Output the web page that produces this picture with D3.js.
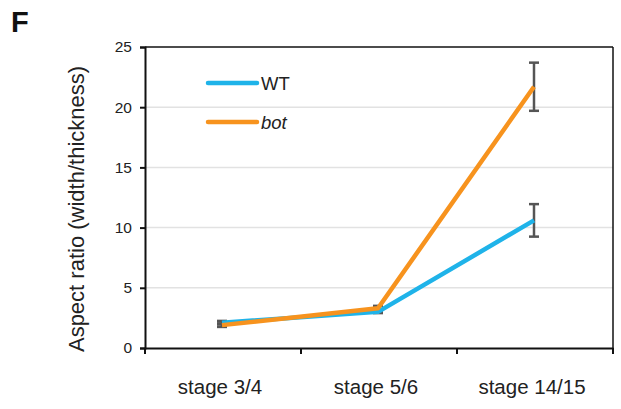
<!DOCTYPE html>
<html><head><meta charset="utf-8">
<script src="https://cdn.jsdelivr.net/npm/d3@7"></script>
<style>body{margin:0;background:#fff;} text{font-family:"Liberation Sans",Arial,sans-serif;}</style>
</head><body><svg id="c" width="621" height="409"></svg>
<script>
const categories = ["stage 3/4", "stage 5/6", "stage 14/15"];
const wtValues = [2.1, 3.0, 10.6];
const wtErrors = [0.15, 0.1, 1.35];
const botValues = [1.9, 3.3, 21.7];
const botErrors = [0.15, 0.2, 2.0];
const yTicks = [0, 5, 10, 15, 20, 25];
const seriesNames = ["WT", "bot"];

const svg = d3.select("#c");
const L = 145, R = 613, T = 47, B = 348;
const x = d3.scaleBand().domain(categories).range([L, R]).padding(0);
const y = d3.scaleLinear().domain([0, 25]).range([B, T]);

// grid
svg.append("g").selectAll("line").data(yTicks.filter(d => d > 0 && d < 25)).join("line")
  .attr("x1", L).attr("x2", R).attr("y1", d => y(d)).attr("y2", d => y(d))
  .attr("stroke", "#e2e2e2").attr("stroke-width", 1.5);

// box top/right
svg.append("line").attr("x1", L).attr("x2", R).attr("y1", T).attr("y2", T).attr("stroke", "#111").attr("stroke-width", 1.5);
svg.append("line").attr("x1", R).attr("x2", R).attr("y1", T).attr("y2", B).attr("stroke", "#111").attr("stroke-width", 1.5);

// y axis
const ya = svg.append("g").attr("transform", `translate(${L},0)`)
  .call(d3.axisLeft(y).tickValues(yTicks).tickSize(5).tickPadding(8));
ya.select(".domain").attr("stroke", "#111").attr("stroke-width", 2);
ya.selectAll(".tick line").attr("stroke", "#111").attr("stroke-width", 2);
ya.selectAll("text").attr("font-size", 15.5).attr("fill", "#222").attr("font-family", "Liberation Sans, Arial, sans-serif");

// x axis
const xa = svg.append("g").attr("transform", `translate(0,${B})`)
  .call(d3.axisBottom(x).tickSize(0).tickPadding(28));
xa.select(".domain").attr("stroke", "#111").attr("stroke-width", 2);
xa.selectAll("text").attr("y", 46).attr("dy", 0).attr("dx", -3).attr("font-size", 20.5).attr("fill", "#222").attr("font-family", "Liberation Sans, Arial, sans-serif");
const bounds = [L].concat(categories.map(c => x(c) + x.bandwidth()));
svg.append("g").selectAll("line").data(bounds).join("line")
  .attr("x1", d => d).attr("x2", d => d).attr("y1", B).attr("y2", B + 6)
  .attr("stroke", "#111").attr("stroke-width", 2);

const cx = c => x(c) + x.bandwidth() / 2 - 1;

// error bars
function errBars(vals, errs) {
  const g = svg.append("g").attr("stroke", "#555").attr("stroke-width", 2.5);
  categories.forEach((c, i) => {
    const x0 = cx(c);
    g.append("line").attr("x1", x0).attr("x2", x0).attr("y1", y(vals[i] - errs[i])).attr("y2", y(vals[i] + errs[i]));
    g.append("line").attr("x1", x0 - 5).attr("x2", x0 + 5).attr("y1", y(vals[i] - errs[i])).attr("y2", y(vals[i] - errs[i]));
    g.append("line").attr("x1", x0 - 5).attr("x2", x0 + 5).attr("y1", y(vals[i] + errs[i])).attr("y2", y(vals[i] + errs[i]));
  });
}
errBars(wtValues, wtErrors);
errBars(botValues, botErrors);

const line = d3.line().x((d, i) => cx(categories[i])).y(d => y(d));
svg.append("path").datum(wtValues).attr("d", line).attr("fill", "none")
  .attr("stroke", "#1fb3e9").attr("stroke-width", 4.5).attr("stroke-linejoin", "round");
svg.append("path").datum(botValues).attr("d", line).attr("fill", "none")
  .attr("stroke", "#f7931e").attr("stroke-width", 4.5).attr("stroke-linejoin", "round");

// legend
const leg = [{name: seriesNames[0], color: "#1fb3e9", y: 83, italic: false},
             {name: seriesNames[1], color: "#f7931e", y: 122, italic: true}];
leg.forEach(d => {
  svg.append("line").attr("x1", 208).attr("x2", 257).attr("y1", d.y).attr("y2", d.y)
    .attr("stroke", d.color).attr("stroke-width", 4.5).attr("stroke-linecap", "round");
  svg.append("text").attr("x", 261).attr("y", d.y + 6.5).text(d.name)
    .attr("font-size", 18.5).attr("fill", "#222").attr("font-style", d.italic ? "italic" : "normal");
});

// y title
svg.append("text").attr("transform", `translate(84,209) rotate(-90)`)
  .attr("text-anchor", "middle").attr("font-size", 22).attr("fill", "#222")
  .text("Aspect ratio (width/thickness)");

// panel label
svg.append("text").attr("x", 11).attr("y", 32).attr("font-size", 29).attr("font-weight", "bold").attr("fill", "#111").text("F");
</script></body></html>
